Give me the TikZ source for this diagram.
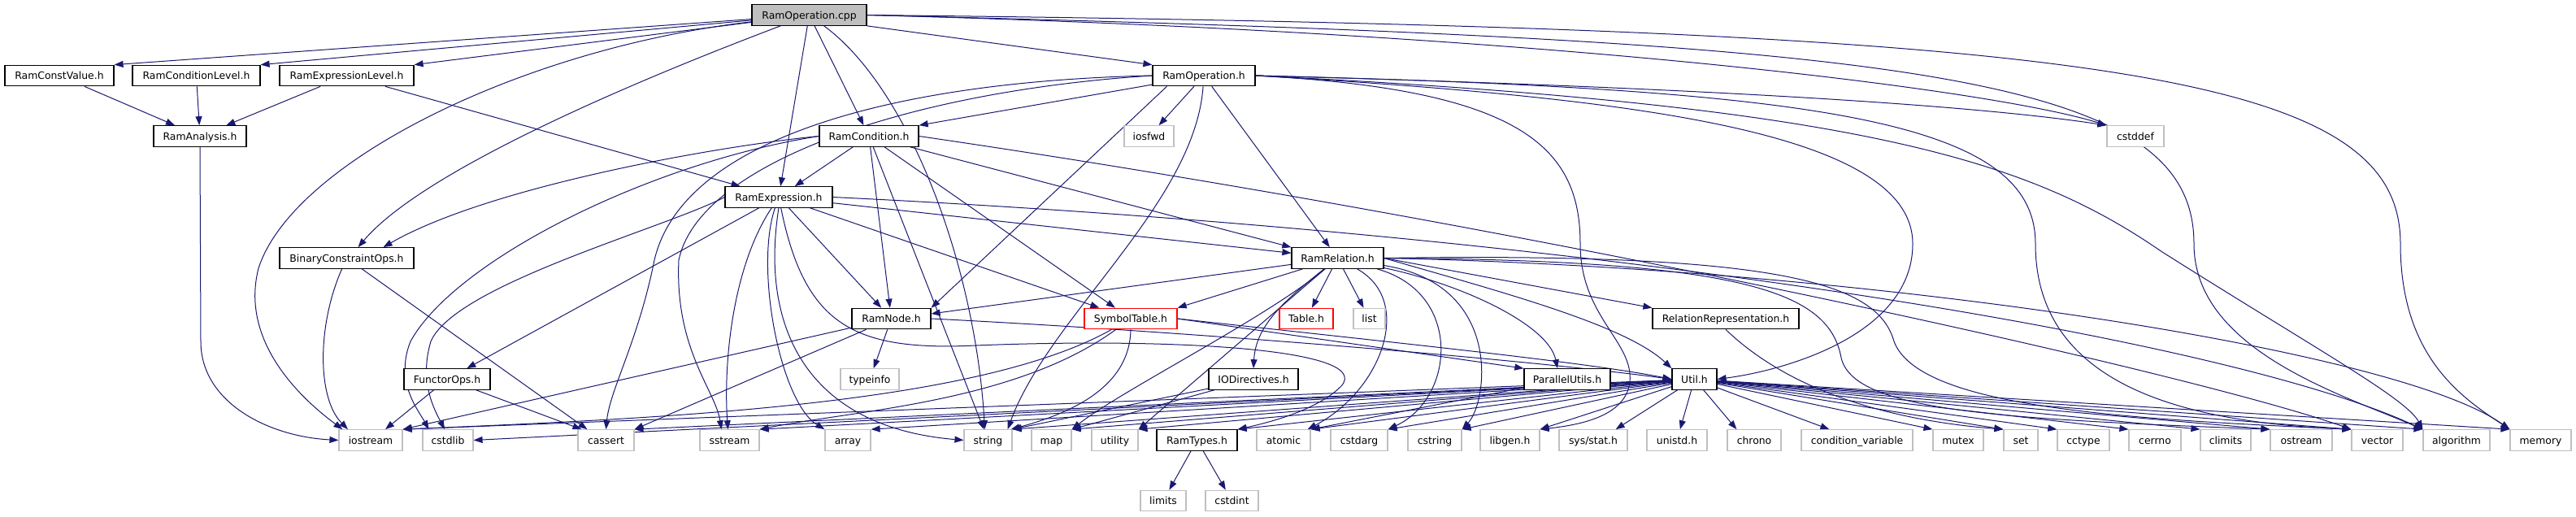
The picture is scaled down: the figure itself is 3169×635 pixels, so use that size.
\documentclass[tikz,border=0pt]{standalone}
\usepackage{fontspec}
\setmainfont{DejaVu Sans}
\usetikzlibrary{arrows.meta,calc}
\definecolor{edgec}{HTML}{191970}
\definecolor{grayb}{HTML}{BFBFBF}
\pgfdeclarelayer{bg}
\pgfsetlayers{bg,main}
\tikzset{
  nd/.style={draw=black, line width=1.2pt, fill=white, minimum height=25.5pt, inner xsep=0pt, inner ysep=0pt, text height=9.2pt, text depth=0pt, font=\fontsize{12.4}{15}\selectfont, minimum width=#1},
  sysnd/.style={nd=#1, draw=grayb},
  rednd/.style={nd=#1, draw=red},
  cppnd/.style={nd=#1, fill=grayb},
  e/.style={draw=edgec, line width=1pt, -{Triangle[length=11pt,width=8pt]}},
}
\begin{document}
\begin{tikzpicture}[x=1pt,y=-1pt]
\useasboundingbox (0,0) rectangle (3169,635);
% row 0-4
\node[cppnd=141] (cpp) at (995.5,18.5) {RamOperation.cpp};
\node[nd=134] (cv) at (73,93) {RamConstValue.h};
\node[nd=157] (cl) at (241.5,93) {RamConditionLevel.h};
\node[nd=165] (el) at (426.5,93) {RamExpressionLevel.h};
\node[nd=126] (oph) at (1481,93) {RamOperation.h};
\node[nd=114] (ana) at (246,167.5) {RamAnalysis.h};
\node[nd=122] (cond) at (1069,167.5) {RamCondition.h};
\node[sysnd=61] (iosfwd) at (1413.5,167.5) {iosfwd};
\node[sysnd=70] (cstddef) at (2627,167.5) {cstddef};
\node[nd=132] (expr) at (958,242.5) {RamExpression.h};
\node[nd=165] (bco) at (426.5,317.5) {BinaryConstraintOps.h};
\node[nd=113] (rel) at (1645.5,317.5) {RamRelation.h};
% row 5
\node[nd=97] (rnode) at (1096.5,392) {RamNode.h};
\node[rednd=114] (sym) at (1391,392) {SymbolTable.h};
\node[rednd=66] (table) at (1607,392) {Table.h};
\node[sysnd=39] (list) at (1684.5,392) {list};
\node[nd=180] (rr) at (2123,392) {RelationRepresentation.h};
% row 6
\node[nd=106] (fops) at (550,466.5) {FunctorOps.h};
\node[sysnd=72] (typeinfo) at (1070,466.5) {typeinfo};
\node[nd=110] (iod) at (1542,466.5) {IODirectives.h};
\node[nd=106] (pu) at (1928,466.5) {ParallelUtils.h};
\node[nd=55] (util) at (2084.5,466.5) {Util.h};
% row 7
\node[sysnd=78] (iostream) at (456,541.5) {iostream};
\node[sysnd=62] (cstdlib) at (551,541.5) {cstdlib};
\node[sysnd=69] (cassert) at (745.5,541.5) {cassert};
\node[sysnd=73] (sstream) at (897.5,541.5) {sstream};
\node[sysnd=56] (array) at (1043,541.5) {array};
\node[sysnd=59] (string) at (1215.5,541.5) {string};
\node[sysnd=49] (map) at (1293.5,541.5) {map};
\node[sysnd=57] (utility) at (1371.5,541.5) {utility};
\node[nd=99] (ramtypes) at (1472.5,541.5) {RamTypes.h};
\node[sysnd=66] (atomic) at (1579,541.5) {atomic};
\node[sysnd=70] (cstdarg) at (1672,541.5) {cstdarg};
\node[sysnd=66] (cstring) at (1765,541.5) {cstring};
\node[sysnd=73] (libgen) at (1857.5,541.5) {libgen.h};
\node[sysnd=84] (sysstat) at (1960,541.5) {sys/stat.h};
\node[sysnd=74] (unistd) at (2063,541.5) {unistd.h};
\node[sysnd=66] (chrono) at (2158,541.5) {chrono};
\node[sysnd=137] (condvar) at (2284.5,541.5) {condition\_variable};
\node[sysnd=62] (mutex) at (2409,541.5) {mutex};
\node[sysnd=42] (set) at (2486,541.5) {set};
\node[sysnd=64] (cctype) at (2563,541.5) {cctype};
\node[sysnd=64] (cerrno) at (2651,541.5) {cerrno};
\node[sysnd=62] (climits) at (2738,541.5) {climits};
\node[sysnd=76] (ostream) at (2831,541.5) {ostream};
\node[sysnd=63] (vector) at (2924.5,541.5) {vector};
\node[sysnd=82] (algorithm) at (3022,541.5) {algorithm};
\node[sysnd=75] (memory) at (3125.5,541.5) {memory};
% row 8
\node[sysnd=56] (limits) at (1431,616) {limits};
\node[sysnd=65] (cstdint) at (1515.5,616) {cstdint};

\begin{pgfonlayer}{bg}
% RamOperation.cpp
\draw[e] (cpp) -- (cv.north east);
\draw[e] (cpp) -- (cl.north east);
\draw[e] (cpp) -- (el.north east);
\draw[e] (cpp.south east) -- (oph.north west);
\draw[e] (cpp) -- (cond);
\draw[e] (cpp) -- (expr);
\draw[e] (cpp) .. controls (780,100) and (520,210) .. ($(bco.north)+(14,0)$);
\draw[e] (cpp) .. controls (640,60) and (360,200) .. (318,330) .. controls (295,420) and (370,490) .. ($(iostream.north west)+(5,0)$);
\draw[e] (cpp) .. controls (1120,110) and (1200,330) .. ($(string.north)+(-4,0)$);
\draw[e] (cpp.east) .. controls (1900,40) and (2450,110) .. (cstddef.north west);
\draw[e] (cpp.east) .. controls (2350,50) and (2699,90) .. (2699,300) .. controls (2699,430) and (2880,485) .. (algorithm.north west);
\draw[e] (cpp.east) .. controls (2600,35) and (2953,90) .. (2953,300) .. controls (2953,440) and (3030,490) .. (memory.north west);
% analysis
\draw[e] (cv) -- (ana);
\draw[e] (cl) -- (ana);
\draw[e] (el) -- (ana);
\draw[e] (el) -- (expr);
\draw[e] (ana.south) -- (247,420) .. controls (247,495) and (330,537) .. (iostream.west);
% RamOperation.h
\draw[e] (oph) -- (cond.north east);
\draw[e] (oph) -- (iosfwd);
\draw[e] ($(oph.south west)+(18,0)$) -- (rnode.north east);
\draw[e] (oph) -- (rel);
\draw[e] (oph) .. controls (1470,250) and (1290,390) .. ($(string.north east)+(-6,0)$);
\draw[e] (oph.west) .. controls (1100,100) and (840,170) .. (805,320) .. controls (785,420) and (750,480) .. (cassert.north);
\draw[e] (oph.west) .. controls (1120,112) and (860,200) .. (835,320) .. controls (830,430) and (880,480) .. ($(sstream.north)+(-10,0)$);
\draw[e] (oph.east) .. controls (2000,120) and (2353,160) .. (2353,300) .. controls (2353,410) and (2200,455) .. (util.east);
\draw[e] (oph.east) .. controls (2250,110) and (2504,150) .. (2504,300) .. controls (2504,480) and (2700,520) .. (vector.north west);
\draw[e] (oph.east) .. controls (2000,105) and (2400,125) .. (cstddef.north west);
\draw[e] (oph.east) .. controls (2300,130) and (2500,200) .. (2660,310) .. controls (2850,430) and (2960,490) .. (algorithm.north west);
\draw[e] (oph.east) .. controls (1870,110) and (1944,180) .. (1944,300) .. controls (1944,390) and (2010,420) .. (2005,470) .. controls (2000,510) and (1950,522) .. (libgen.north east);
% RamCondition.h
\draw[e] (cond.west) .. controls (880,180) and (600,230) .. ($(bco.north)+(45,0)$);
\draw[e] (cond) -- (expr);
\draw[e] (cond) -- (rnode);
\draw[e] (cond) -- (string);
\draw[e] (cond) -- (sym);
\draw[e] (cond) -- (rel.north west);
\draw[e] (cond.west) .. controls (800,200) and (560,320) .. (505,420) .. controls (485,470) and (515,505) .. ($(cstdlib.north west)+(8,0)$);
\draw[e] (cond.east) .. controls (1900,280) and (2700,460) .. (vector.north west);
% RamExpression.h
\draw[e] (expr) -- (rnode);
\draw[e] (expr) -- (sym);
\draw[e] (expr) -- (rel);
\draw[e] (expr) -- (fops);
\draw[e] (expr.south) .. controls (935,400) and (990,525) .. (string.west);
\draw[e] (expr) .. controls (928,330) and (960,495) .. (array.north west);
\draw[e] (expr) .. controls (900,330) and (890,450) .. ($(sstream.north)+(-2,0)$);
\draw[e] (expr.west) .. controls (820,280) and (560,350) .. (530,420) .. controls (515,470) and (535,505) .. ($(cstdlib.north)+(-4,0)$);
\draw[e] (expr.east) .. controls (2000,290) and (2750,420) .. (algorithm.north west);
\draw[e] (expr) .. controls (990,400) and (1050,432) .. (1200,425) .. controls (1450,415) and (1690,430) .. (1650,475) .. controls (1620,505) and (1560,520) .. (ramtypes.north east);
% RamRelation.h
\draw[e] (rel) -- ($(rnode.east)+(0,-6)$);
\draw[e] (rel) -- (sym.north east);
\draw[e] (rel) -- (table);
\draw[e] (rel) -- (list);
\draw[e] (rel) .. controls (1580,370) and (1545,400) .. (iod.north);
\draw[e] (rel) .. controls (1800,350) and (1905,400) .. ($(pu.north)+(-12,0)$);
\draw[e] (rel.east) .. controls (1850,360) and (2000,400) .. (util.north west);
\draw[e] (rel.east) -- (rr.north west);
\draw[e] (rel) -- (utility.north east);
\draw[e] (rel) .. controls (1560,390) and (1380,480) .. (map.north east);
\draw[e] (rel) .. controls (1740,370) and (1700,480) .. ($(atomic.north east)+(-4,0)$);
\draw[e] (rel) .. controls (1800,360) and (1790,490) .. (cstdarg.north east);
\draw[e] (rel) .. controls (1850,350) and (1830,495) .. (cstring.north east);
\draw[e] (rel.east) .. controls (2150,320) and (2250,360) .. (2265,440) .. controls (2280,505) and (2450,515) .. (ostream.north west);
\draw[e] (rel.east) .. controls (2200,310) and (2310,350) .. (2330,420) .. controls (2360,500) and (2600,515) .. (vector.north west);
\draw[e] (rel.east) .. controls (2300,330) and (2950,430) .. (memory.north west);
% RelationRepresentation.h
\draw[e] (rr.south) .. controls (2190,470) and (2300,515) .. (set.north west);
% RamNode.h
\draw[e] (rnode) -- (typeinfo);
\draw[e] (rnode) -- (iostream.north east);
\draw[e] (rnode) -- (cassert.north east);
\draw[e] (rnode.east) .. controls (1500,410) and (1900,445) .. (util.west);
% SymbolTable.h
\draw[e] (sym.south) .. controls (1390,470) and (1330,505) .. ($(string.north east)+(-2,0)$);
\draw[e] (sym) .. controls (1250,495) and (1050,505) .. (sstream.north east);
\draw[e] (sym) .. controls (1200,500) and (800,515) .. (iostream.north east);
\draw[e] (sym.east) -- (pu.north west);
\draw[e] (sym.east) .. controls (1700,420) and (1950,445) .. (util.west);
% IODirectives.h, ParallelUtils.h
\draw[e] (iod) -- (string.north east);
\draw[e] (iod) -- (map.north east);
\draw[e] (pu) -- (atomic.north east);
% FunctorOps.h, BinaryConstraintOps.h
\draw[e] (fops) -- ($(iostream.north)+(18,0)$);
\draw[e] (fops) -- ($(cassert.north west)+(5,0)$);
\draw[e] (bco) .. controls (390,400) and (390,490) .. ($(iostream.north)+(-28,0)$);
\draw[e] (bco) -- ($(cassert.north west)+(12,0)$);
% RamTypes.h
\draw[e] (ramtypes) -- (limits);
\draw[e] (ramtypes) -- (cstdint);
% Util.h
\foreach \t in {iostream,cassert,sstream,array,string,map,utility,ramtypes,atomic,cstdarg,cstring,libgen} {\draw[e] (util) -- (\t.north east);}
\draw[e] (util) -- (cstdlib.east);
\draw[e] (util) -- ($(sysstat.north east)+(-15,0)$);
\draw[e] (util) -- (unistd);
\draw[e] (util) -- ($(chrono.north west)+(12,0)$);
\draw[e] (util) -- ($(condvar.north west)+(35,0)$);
\foreach \t in {mutex,set,cctype,cerrno,climits,ostream,vector,algorithm,memory} {\draw[e] (util) -- (\t.north west);}
\end{pgfonlayer}
\end{tikzpicture}
\end{document}
